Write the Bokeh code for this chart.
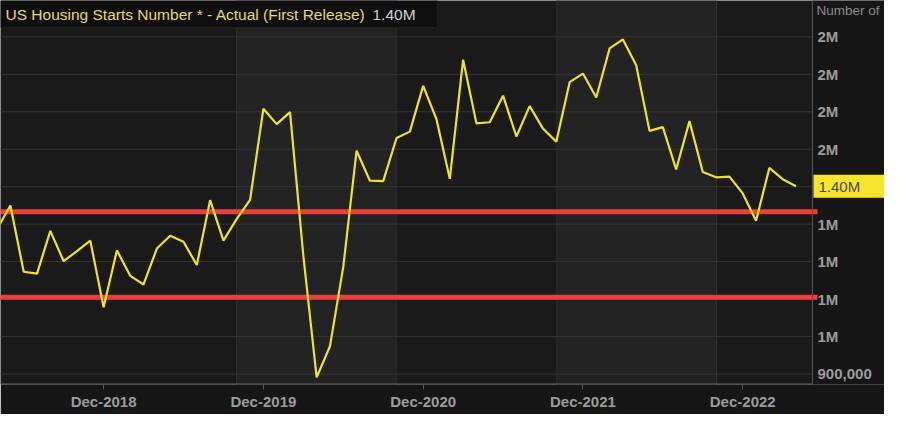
import pandas as pd
from bokeh.plotting import figure
from bokeh.models import Range1d, FixedTicker, Span, BoxAnnotation, Label
from bokeh.core.properties import value
from bokeh.embed import file_html
from bokeh.resources import INLINE

# ---------------- data ----------------
months = [str(p) for p in pd.period_range("2018-04", "2023-04", freq="M")]
starts_k = [1287, 1350, 1173, 1168, 1282, 1201, 1228, 1256, 1078,
            1230, 1162, 1139, 1235, 1269, 1253, 1191, 1364, 1256, 1314, 1365, 1608,
            1567, 1599, 1216, 891, 974, 1186, 1496, 1416, 1415, 1530, 1547, 1669,
            1580, 1421, 1739, 1569, 1572, 1643, 1534, 1615, 1555, 1520, 1679, 1702,
            1638, 1769, 1793, 1724, 1549, 1559, 1446, 1575, 1439, 1425, 1427, 1382,
            1309, 1450, 1420, 1401]
tick_months = ["2018-12", "2019-12", "2020-12", "2021-12", "2022-12"]
tick_labels = ["Dec-2018", "Dec-2019", "Dec-2020", "Dec-2021", "Dec-2022"]
band_edges = ["2019-10", "2020-10", "2021-10", "2022-10"]
shaded_from = ["2019-10", "2021-10"]
shaded_to = ["2020-10", "2022-10"]
y_ticks = [900000, 1000000, 1100000, 1200000, 1300000, 1400000,
           1500000, 1600000, 1700000, 1800000]
y_tick_labels = ["900,000", "1M", "1M", "1M", "1M", "1M", "2M", "2M", "2M", "2M"]
red_levels = [1333000, 1105000]
series_name = "US Housing Starts Number * - Actual (First Release)"
last_label = "1.40M"
axis_title = "Number of"

idx = {m: i for i, m in enumerate(months)}
xs = list(range(len(months)))
ys = [v * 1000 for v in starts_k]

# ---------------- layout / style ----------------
W, H = 884, 414
RIGHT, BOTTOM = 72, 30
FW, FH = W - RIGHT, H - BOTTOM      # width of the data area, height of frame
x0, x1 = 0.257, 61.24               # data area (months)
y0, y1 = 872000, 1897000
ppx = FW / (x1 - x0)
ppy = FH / (y1 - y0)
x_end = x0 + W / ppx                # frame also covers the right-hand label panel

BG = "#1a1a1a"
PANEL = "#161616"
BAND = "#232323"
GRID = "#343434"
EDGE = "#555555"
TXT = "#9c9c9c"
FONT = "Liberation Sans"

p = figure(width=W, height=H, x_range=Range1d(x0, x_end), y_range=Range1d(y0, y1),
           output_backend="svg", toolbar_location=None, y_axis_location=None,
           min_border_left=0, min_border_top=0, min_border_right=0,
           min_border_bottom=BOTTOM, background_fill_color=BG,
           border_fill_color=PANEL, outline_line_color=None)

# right label panel background
p.add_layout(BoxAnnotation(left=x1, fill_color=PANEL, fill_alpha=1,
                           line_color=None, level="underlay"))
for a, b in zip(shaded_from, shaded_to):
    p.add_layout(BoxAnnotation(left=idx[a], right=idx[b], fill_color=BAND,
                               fill_alpha=1, line_color=None, level="underlay"))

p.xgrid.ticker = FixedTicker(ticks=[idx[m] for m in band_edges])
p.xgrid.grid_line_color = GRID
p.ygrid.grid_line_color = None

# horizontal grid lines, only across the data area
p.segment(x0=[x0] * len(y_ticks), x1=[x1] * len(y_ticks), y0=y_ticks, y1=y_ticks,
          line_color=GRID, line_width=1)

# frame edges of the data area
p.segment(x0=[x0], x1=[x1], y0=[y0 + 0.6 / ppy], y1=[y0 + 0.6 / ppy],
          line_color=EDGE, line_width=1)
p.add_layout(Span(location=x1, dimension="height", line_color=EDGE, line_width=1))

# x axis
xa = p.xaxis[0]
xa.ticker = FixedTicker(ticks=[idx[m] for m in tick_months])
xa.major_label_overrides = {idx[m]: l for m, l in zip(tick_months, tick_labels)}
xa.major_tick_in = 0
xa.major_tick_out = 5
xa.minor_tick_line_color = None
xa.axis_line_color = None
xa.major_tick_line_color = EDGE
xa.major_label_text_color = TXT
xa.major_label_text_font = FONT
xa.major_label_text_font_style = "bold"
xa.major_label_text_font_size = "15px"
xa.major_label_standoff = 3

# right-hand value labels
p.text(x=[x1] * len(y_ticks), y=y_ticks, text=y_tick_labels, x_offset=5,
       text_baseline="middle", text_align="left", text_color=TXT,
       text_font=value(FONT), text_font_style="bold", text_font_size="15px")

# red reference lines
p.segment(x0=[x0] * len(red_levels), x1=[x1 + 5 / ppx] * len(red_levels),
          y0=red_levels, y1=red_levels, line_color="#e8403f", line_width=5)

p.line(xs, ys, line_color="#f0e030", line_width=2.2)

# legend box
p.add_layout(BoxAnnotation(left=x0, right=x0 + 437 / ppx, top=y1,
                           bottom=y1 - 27 / ppy, fill_color="#0f0f0f",
                           fill_alpha=1, line_color="#3c3c3c", line_width=1))
p.add_layout(Label(x=x0 + 5 / ppx, y=y1 - 14 / ppy, text=series_name,
                   text_baseline="middle", text_color="#e6d873",
                   text_font=FONT, text_font_size="15.5px"))
p.add_layout(Label(x=x0 + 372 / ppx, y=y1 - 14 / ppy, text=last_label,
                   text_baseline="middle", text_color="#cfd0d8",
                   text_font=FONT, text_font_size="15.5px"))

# last value badge
p.add_layout(Label(x=x1 + 1 / ppx, y=ys[-1], text=last_label,
                   text_baseline="middle", text_color="#4a4a4a", text_font=FONT,
                   text_font_size="15px", background_fill_color="#f5e52c",
                   padding=dict(left=5, right=26, top=3, bottom=3),
                   level="overlay"))

# axis title at top right
p.add_layout(Label(x=x1 + 4 / ppx, y=y1 - 2 / ppy, text=axis_title,
                   text_baseline="top", text_color="#8a8a8a",
                   text_font=FONT, text_font_size="13.5px", level="overlay"))

open("out.html", "w").write(file_html(p, INLINE))
